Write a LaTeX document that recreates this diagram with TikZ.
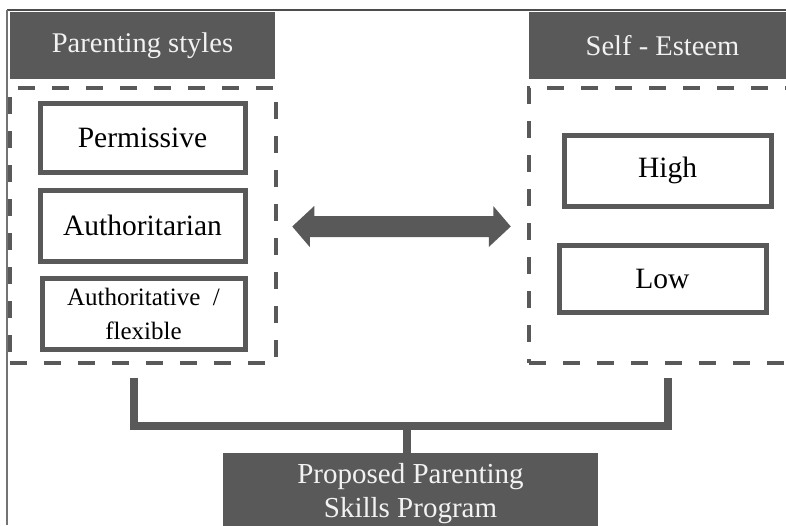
\documentclass[tikz,border=0pt]{standalone}
\usepackage{fontspec}
\setmainfont{Liberation Serif}
\usetikzlibrary{calc}
\definecolor{dg}{HTML}{595959}
\definecolor{txtw}{HTML}{F2F2F2}
\begin{document}
\begin{tikzpicture}[x=1pt,y=-1pt,
  hdr/.style={rectangle,fill=dg,draw=none,text=txtw,font=\fontsize{28.5}{33}\selectfont,inner sep=0pt},
  grp/.style={rectangle,draw=dg,line width=4.5pt,dash pattern=on 17pt off 17pt,inner sep=0pt},
  item/.style={rectangle,draw=dg,line width=5pt,fill=white,text=black,font=\fontsize{29.5}{33}\selectfont,inner sep=0pt,align=center},
  conn/.style={draw=dg,line width=8pt,line join=miter}
]
\useasboundingbox (0,0) rectangle (786,525);
\fill[white] (0,0) rectangle (786,525);
% frame
\draw[color=black!70,line width=1.5pt] (7,10) -- (786,10);
\draw[color=black!55,line width=2pt] (7,10) -- (7,525);

% headers
\node[hdr,minimum width=265pt,minimum height=67pt] (ps) at (142.5,45.5) {Parenting styles};
\node[hdr,minimum width=267pt,minimum height=67pt] (se) at (662.5,45.5) {Self - Esteem};

% dashed group boxes
\node[grp,minimum width=266pt,minimum height=275pt] (lbox) at (143,225.5) {};
\node[grp,minimum width=271pt,minimum height=275pt] (rbox) at (664.5,225.5) {};

% items
\node[item,minimum width=205pt,minimum height=69pt] (perm) at (142.5,137.5) {Permissive};
\node[item,minimum width=205pt,minimum height=71pt] (autn) at (142.5,225.5) {Authoritarian};
\node[item,minimum width=203pt,minimum height=71pt,font=\fontsize{25}{34}\selectfont] (autv) at (143.5,313.5) {Authoritative~~/\\flexible};
\node[item,minimum width=207pt,minimum height=71pt] (high) at (667.5,170.5) {High};
\node[item,minimum width=207pt,minimum height=67pt] (low) at (662.5,278.5) {Low};

% bottom box
\node[hdr,minimum width=375pt,minimum height=82pt,align=center,font=\fontsize{29}{34}\selectfont] (prog) at (410.5,494) {Proposed Parenting\\Skills Program};

% double arrow between groups
\coordinate (al) at ($(lbox.east)+(14,1)$);
\coordinate (ar) at ($(rbox.west)+(-16,1)$);
\fill[dg] (al) -- ++(22,-20.5) -- ++(0,10) -- ++(179,0) -- ++(0,-10) -- (ar)
  -- ++(-22,20.5) -- ++(0,-10) -- ++(-179,0) -- ++(0,10) -- cycle;

% bracket connector
\coordinate (bl) at ($(lbox.south)+(-9.5,13)$);
\coordinate (br) at ($(rbox.south)+(3,13)$);
\coordinate (bm) at (406.7,426);
\draw[conn] (bl) -- (bl |- bm) -- (br |- bm) -- (br);
\draw[conn] (bm) -- (bm |- prog.north);
\end{tikzpicture}
\end{document}
